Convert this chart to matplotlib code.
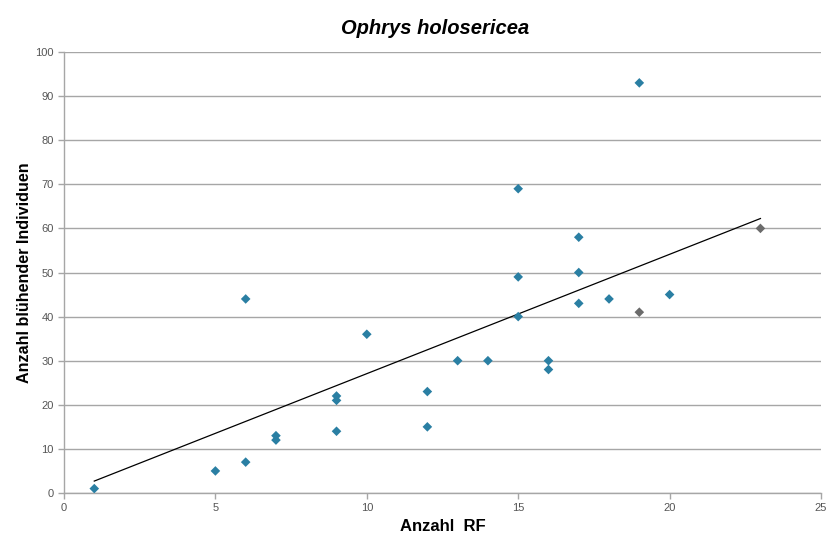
import numpy as np
import matplotlib
matplotlib.use("Agg")
import matplotlib.pyplot as plt

plt.rcParams['font.family'] = ['Liberation Sans', 'DejaVu Sans']

title = "Ophrys holosericea"
xlabel = "Anzahl  RF"
ylabel = "Anzahl blühender Individuen"

rf = [1, 5, 6, 6, 7, 7, 9, 9, 9, 10, 12, 12, 13, 14, 15, 15, 15, 16, 16,
      17, 17, 17, 18, 19, 19, 20, 23]
individuen = [1, 5, 7, 44, 12, 13, 14, 21, 22, 36, 15, 23, 30, 30, 40, 49, 69,
              28, 30, 43, 50, 58, 44, 41, 93, 45, 60]

x_ticks = [0, 5, 10, 15, 20, 25]
y_ticks = [0, 10, 20, 30, 40, 50, 60, 70, 80, 90, 100]

x = np.array(rf, dtype=float)
y = np.array(individuen, dtype=float)

fig = plt.figure(figsize=(8.26, 5.36), dpi=100)
ax = fig.add_axes([64/826, 1-493/536, (821-64)/826, (493-52)/536])

ax.set_xlim(0, 25)
ax.set_ylim(0, 100)
ax.set_xticks(x_ticks)
ax.set_yticks(y_ticks)
ax.yaxis.grid(True, color='#a6a6a6', linewidth=1.0)
ax.set_axisbelow(True)
for s in ['top', 'right']:
    ax.spines[s].set_visible(False)
for s in ['left', 'bottom']:
    ax.spines[s].set_color('#a6a6a6')
    ax.spines[s].set_linewidth(1.0)
ax.tick_params(axis='both', colors='#a6a6a6', length=4, width=1,
               labelcolor='#555555', labelsize=8)

# points in grey tone
grey_idx = [23, 26]
cols = ['#6b6b6b' if i in grey_idx else '#2a7fa3' for i in range(len(x))]
ax.scatter(x, y, marker='D', s=24, c=cols, edgecolors='none', zorder=3)

# linear trend through origin
slope = np.sum(x * y) / np.sum(x * x)
xt = np.array([x.min(), x.max()])
ax.plot(xt, slope * xt, color='black', linewidth=0.9, zorder=2)

fig.text(435/826, 1-28/536, title, ha='center', va='center',
         fontsize=14.5, fontweight='bold', fontstyle='italic')
ax.set_xlabel(xlabel, fontsize=12, fontweight='bold', labelpad=4)
ax.set_ylabel(ylabel, fontsize=11.6, fontweight='bold', labelpad=2)

fig.savefig('out.png', dpi=100, facecolor='white')
